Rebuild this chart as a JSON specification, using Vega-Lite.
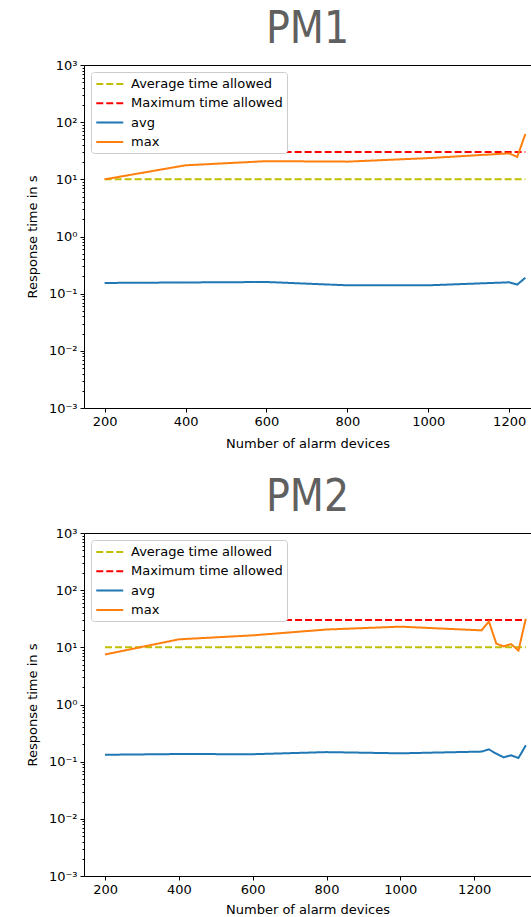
{
  "$schema": "https://vega.github.io/schema/vega-lite/v6.json",
  "background": "white",
  "padding": {"left": 26, "top": 8, "right": 0, "bottom": 0},
  "datasets": {
    "pts": [
      {"panel": "PM1", "series": "Average time allowed", "x": 200, "y": 10},
      {"panel": "PM1", "series": "Average time allowed", "x": 1240, "y": 10},
      {"panel": "PM1", "series": "Maximum time allowed", "x": 200, "y": 30},
      {"panel": "PM1", "series": "Maximum time allowed", "x": 1240, "y": 30},
      {"panel": "PM1", "series": "avg", "x": 200, "y": 0.154},
      {"panel": "PM1", "series": "avg", "x": 400, "y": 0.157},
      {"panel": "PM1", "series": "avg", "x": 600, "y": 0.16},
      {"panel": "PM1", "series": "avg", "x": 800, "y": 0.14},
      {"panel": "PM1", "series": "avg", "x": 1000, "y": 0.14},
      {"panel": "PM1", "series": "avg", "x": 1200, "y": 0.158},
      {"panel": "PM1", "series": "avg", "x": 1220, "y": 0.144},
      {"panel": "PM1", "series": "avg", "x": 1240, "y": 0.19},
      {"panel": "PM1", "series": "max", "x": 200, "y": 10},
      {"panel": "PM1", "series": "max", "x": 400, "y": 17.6},
      {"panel": "PM1", "series": "max", "x": 600, "y": 20.8},
      {"panel": "PM1", "series": "max", "x": 800, "y": 20.4},
      {"panel": "PM1", "series": "max", "x": 1000, "y": 23.5},
      {"panel": "PM1", "series": "max", "x": 1200, "y": 28.5},
      {"panel": "PM1", "series": "max", "x": 1220, "y": 24.6},
      {"panel": "PM1", "series": "max", "x": 1240, "y": 62},
      {"panel": "PM2", "series": "Average time allowed", "x": 200, "y": 10},
      {"panel": "PM2", "series": "Average time allowed", "x": 1340, "y": 10},
      {"panel": "PM2", "series": "Maximum time allowed", "x": 200, "y": 30},
      {"panel": "PM2", "series": "Maximum time allowed", "x": 1340, "y": 30},
      {"panel": "PM2", "series": "avg", "x": 200, "y": 0.132},
      {"panel": "PM2", "series": "avg", "x": 400, "y": 0.136},
      {"panel": "PM2", "series": "avg", "x": 600, "y": 0.135},
      {"panel": "PM2", "series": "avg", "x": 800, "y": 0.147},
      {"panel": "PM2", "series": "avg", "x": 1000, "y": 0.14},
      {"panel": "PM2", "series": "avg", "x": 1220, "y": 0.15},
      {"panel": "PM2", "series": "avg", "x": 1240, "y": 0.164},
      {"panel": "PM2", "series": "avg", "x": 1260, "y": 0.138},
      {"panel": "PM2", "series": "avg", "x": 1280, "y": 0.119},
      {"panel": "PM2", "series": "avg", "x": 1300, "y": 0.129},
      {"panel": "PM2", "series": "avg", "x": 1320, "y": 0.116},
      {"panel": "PM2", "series": "avg", "x": 1340, "y": 0.193},
      {"panel": "PM2", "series": "max", "x": 200, "y": 7.5},
      {"panel": "PM2", "series": "max", "x": 400, "y": 13.8},
      {"panel": "PM2", "series": "max", "x": 600, "y": 16.2},
      {"panel": "PM2", "series": "max", "x": 800, "y": 20.5},
      {"panel": "PM2", "series": "max", "x": 1000, "y": 23},
      {"panel": "PM2", "series": "max", "x": 1220, "y": 19.8},
      {"panel": "PM2", "series": "max", "x": 1240, "y": 28.4},
      {"panel": "PM2", "series": "max", "x": 1260, "y": 11.6},
      {"panel": "PM2", "series": "max", "x": 1280, "y": 10.4},
      {"panel": "PM2", "series": "max", "x": 1300, "y": 11.4},
      {"panel": "PM2", "series": "max", "x": 1320, "y": 8.8},
      {"panel": "PM2", "series": "max", "x": 1340, "y": 31.7}
    ]
  },
  "spacing": 26,
  "vconcat": [
    {
      "title": {"text": "PM1"},
      "width": 447,
      "height": 343,
      "data": {"name": "pts"},
      "transform": [{"filter": "datum.panel == 'PM1'"}],
      "resolve": {"axis": {"x": "independent"}},
      "layer": [
        {
          "mark": {"type": "line", "strokeWidth": 2, "clip": true},
          "encoding": {
            "x": {"field": "x", "type": "quantitative", "scale": {"domain": [149, 1254], "nice": false, "zero": false},
                  "axis": {"values": [200, 400, 600, 800, 1000, 1200], "format": "d", "title": "Number of alarm devices"}},
            "y": {"field": "y", "type": "quantitative", "scale": {"type": "log", "domain": [0.001, 1000], "nice": false},
                  "axis": {"title": "Response time in s",
                           "values": [0.001,0.002,0.003,0.004,0.005,0.006,0.007,0.008,0.009,0.01,0.02,0.03,0.04,0.05,0.06,0.07,0.08,0.09,0.1,0.2,0.3,0.4,0.5,0.6,0.7,0.8,0.9,1,2,3,4,5,6,7,8,9,10,20,30,40,50,60,70,80,90,100,200,300,400,500,600,700,800,900,1000],
                           "labelExpr": "datum.value == 1000 ? '10³' : datum.value == 100 ? '10²' : datum.value == 10 ? '10¹' : datum.value == 1 ? '10⁰' : datum.value == 0.1 ? '10⁻¹' : datum.value == 0.01 ? '10⁻²' : datum.value == 0.001 ? '10⁻³' : ''",
                           "tickSize": {"condition": {"test": "abs(log(datum.value)/LN10 - round(log(datum.value)/LN10)) < 0.001", "value": 4}, "value": 2}}},
            "color": {"field": "series", "type": "nominal",
                      "scale": {"domain": ["Average time allowed", "Maximum time allowed", "avg", "max"], "range": ["#bfbf00", "#ff0000", "#1f77b4", "#ff7f0e"]},
                      "legend": {"title": null}},
            "strokeDash": {"field": "series", "type": "nominal",
                      "scale": {"domain": ["Average time allowed", "Maximum time allowed", "avg", "max"], "range": [[7, 3], [7, 3], [1, 0], [1, 0]]},
                      "legend": {"title": null}}
          }
        },
        {
          "mark": {"type": "point", "opacity": 0},
          "encoding": {
            "x": {"field": "x", "type": "quantitative",
                  "axis": {"orient": "top", "labels": false, "ticks": false, "title": null}}
          }
        }
      ]
    },
    {
      "title": {"text": "PM2"},
      "width": 447,
      "height": 343,
      "data": {"name": "pts"},
      "transform": [{"filter": "datum.panel == 'PM2'"}],
      "resolve": {"axis": {"x": "independent"}},
      "layer": [
        {
          "mark": {"type": "line", "strokeWidth": 2, "clip": true},
          "encoding": {
            "x": {"field": "x", "type": "quantitative", "scale": {"domain": [143, 1354], "nice": false, "zero": false},
                  "axis": {"values": [200, 400, 600, 800, 1000, 1200], "format": "d", "title": "Number of alarm devices", "titlePadding": 7}},
            "y": {"field": "y", "type": "quantitative", "scale": {"type": "log", "domain": [0.001, 1000], "nice": false},
                  "axis": {"title": "Response time in s",
                           "values": [0.001,0.002,0.003,0.004,0.005,0.006,0.007,0.008,0.009,0.01,0.02,0.03,0.04,0.05,0.06,0.07,0.08,0.09,0.1,0.2,0.3,0.4,0.5,0.6,0.7,0.8,0.9,1,2,3,4,5,6,7,8,9,10,20,30,40,50,60,70,80,90,100,200,300,400,500,600,700,800,900,1000],
                           "labelExpr": "datum.value == 1000 ? '10³' : datum.value == 100 ? '10²' : datum.value == 10 ? '10¹' : datum.value == 1 ? '10⁰' : datum.value == 0.1 ? '10⁻¹' : datum.value == 0.01 ? '10⁻²' : datum.value == 0.001 ? '10⁻³' : ''",
                           "tickSize": {"condition": {"test": "abs(log(datum.value)/LN10 - round(log(datum.value)/LN10)) < 0.001", "value": 4}, "value": 2}}},
            "color": {"field": "series", "type": "nominal",
                      "scale": {"domain": ["Average time allowed", "Maximum time allowed", "avg", "max"], "range": ["#bfbf00", "#ff0000", "#1f77b4", "#ff7f0e"]},
                      "legend": {"title": null}},
            "strokeDash": {"field": "series", "type": "nominal",
                      "scale": {"domain": ["Average time allowed", "Maximum time allowed", "avg", "max"], "range": [[7, 3], [7, 3], [1, 0], [1, 0]]},
                      "legend": {"title": null}}
          }
        },
        {
          "mark": {"type": "point", "opacity": 0},
          "encoding": {
            "x": {"field": "x", "type": "quantitative",
                  "axis": {"orient": "top", "labels": false, "ticks": false, "title": null}}
          }
        }
      ]
    }
  ],
  "resolve": {"scale": {"x": "independent", "color": "independent", "strokeDash": "independent"}, "legend": {"color": "independent", "strokeDash": "independent"}},
  "config": {
    "view": {"stroke": null},
    "font": "DejaVu Sans",
    "title": {"font": "DejaVu Sans Condensed, Open Sans, sans-serif", "fontSize": 44, "fontWeight": "normal", "color": "#606060", "anchor": "middle", "baseline": "alphabetic", "offset": 7},
    "axis": {"domainColor": "black", "domainWidth": 1, "tickColor": "black", "tickSize": 4, "labelColor": "black", "titleColor": "black",
             "labelFont": "DejaVu Sans", "titleFont": "DejaVu Sans", "labelFontSize": 13, "titleFontSize": 13, "titleFontWeight": "normal",
             "grid": false, "labelOverlap": false, "labelBound": false, "labelPadding": 3, "titlePadding": 9},
    "legend": {"orient": "top-left", "offset": 7, "fillColor": "white", "strokeColor": "#cccccc", "cornerRadius": 3, "padding": 4,
               "labelFont": "DejaVu Sans", "labelFontSize": 13, "labelColor": "black", "symbolType": "M-1,0L3,0", "symbolSize": 182,
               "symbolStrokeWidth": 2, "labelOffset": 20, "rowPadding": 4.3, "labelLimit": 300}
  }
}
